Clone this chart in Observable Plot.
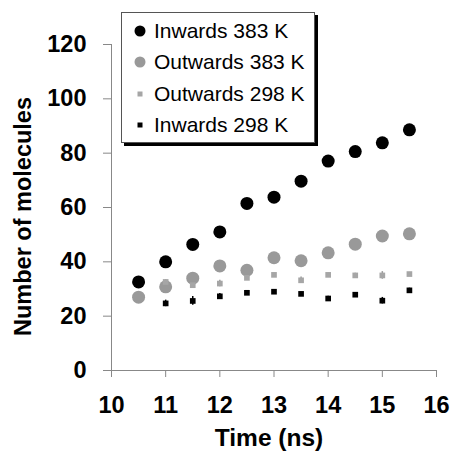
<!DOCTYPE html>
<html><head><meta charset="utf-8">
<script src="https://cdn.jsdelivr.net/npm/d3@7"></script>
<script src="https://cdn.jsdelivr.net/npm/@observablehq/plot@0.6"></script>
<style>
body{margin:0;background:#fff;font-family:"Liberation Sans",Arial,sans-serif;}
#wrap{position:relative;width:452px;height:455px;}
#legend{position:absolute;left:121px;top:12px;width:194px;height:131px;border:1px solid #555;background:#fff;box-shadow:3px 3px 0 #000;box-sizing:border-box;}
#legend .row{position:absolute;left:0;height:24px;display:flex;align-items:center;font-size:21px;color:#000;white-space:nowrap;}
#legend svg{width:30px;height:24px;}
</style></head>
<body><div id="wrap"><div id="chart"></div><div id="legend"></div></div>
<script>
const times = [10.5, 11, 11.5, 12, 12.5, 13, 13.5, 14, 14.5, 15, 15.5];
const inwards383 = [32.6, 40.0, 46.4, 51.0, 61.5, 63.8, 69.7, 77.1, 80.6, 83.8, 88.6];
const outwards383 = [27.0, 30.8, 34.0, 38.5, 36.9, 41.5, 40.4, 43.3, 46.5, 49.5, 50.3];
const outwards298 = [31.8, 32.6, 31.4, 32.0, 34.1, 35.2, 33.2, 35.2, 35.0, 35.0, 35.5];
const inwards298 = [27.1, 24.7, 25.6, 27.3, 28.6, 29.0, 28.2, 26.5, 27.9, 25.7, 29.5];
const err298out = [1.0, 0.8, 1.2, 1.2, 0.8, 0.6, 1.2, 0.6, 0.8, 1.4, 0.6];
const err298in = [1.0, 1.2, 1.6, 1.0, 0.6, 0.6, 0.6, 0.8, 0.8, 1.2, 0.8];
const xTicks = [10, 11, 12, 13, 14, 15, 16];
const yTicks = [0, 20, 40, 60, 80, 100, 120];
const seriesNames = ["Inwards 383 K", "Outwards 383 K", "Outwards 298 K", "Inwards 298 K"];

const rows = (vals, err) => times.map((t, i) => ({t, v: vals[i], e: err ? err[i] : 0}));
const dIn383 = rows(inwards383), dOut383 = rows(outwards383);
const dOut298 = rows(outwards298, err298out), dIn298 = rows(inwards298, err298in);

const plot = Plot.plot({
  width: 452, height: 455,
  marginLeft: 111, marginRight: 16, marginTop: 44, marginBottom: 85,
  x: {domain: [10, 16]},
  y: {domain: [0, 120]},
  style: {fontFamily: "'Liberation Sans', Arial, sans-serif", background: "#fff", color: "#000"},
  marks: [
    Plot.ruleX([10], {stroke: "#888", strokeWidth: 1}),
    Plot.ruleY([0], {stroke: "#888", strokeWidth: 1}),
    Plot.axisY({ticks: yTicks, tickFormat: "d", tickSize: 8, tickPadding: 17, stroke: "#888", fontSize: 23.5, fontWeight: "bold", label: null}),
    Plot.axisX({ticks: xTicks, tickFormat: "d", tickSize: 7, tickPadding: 19, stroke: "#888", fontSize: 23.5, fontWeight: "bold", label: null}),
    Plot.text(["Time (ns)"], {frameAnchor: "bottom", dx: -5, dy: 75, fontSize: 24.5, fontWeight: "bold", fill: "#000"}),
    Plot.text(["Number of molecules"], {frameAnchor: "left", dx: -88, dy: 9, rotate: -90, textAnchor: "middle", fontSize: 23.5, fontWeight: "bold", fill: "#000"}),
    Plot.ruleX(dIn298, {x: "t", y1: d => d.v - d.e, y2: d => d.v + d.e, stroke: "#000", strokeWidth: 1.5}),
    Plot.ruleX(dOut298, {x: "t", y1: d => d.v - d.e, y2: d => d.v + d.e, stroke: "#999", strokeWidth: 1.5}),
    Plot.dot(dIn298, {x: "t", y: "v", symbol: "square", r: 3.2, fill: "#000", stroke: "none"}),
    Plot.dot(dOut383, {x: "t", y: "v", r: 6.5, fill: "#999", stroke: "none"}),
    Plot.dot(dOut298, {x: "t", y: "v", symbol: "square", r: 3.2, fill: "#a6a6a6", stroke: "none"}),
    Plot.dot(dIn383, {x: "t", y: "v", r: 6.5, fill: "#000", stroke: "none"})
  ]
});
document.getElementById("chart").appendChild(plot);

const legend = document.getElementById("legend");
const legendSym = [
  '<circle cx="18" cy="12" r="5.5" fill="#000"/>',
  '<circle cx="18" cy="12" r="5.5" fill="#999"/>',
  '<rect x="15.5" y="9.5" width="5" height="5" fill="#a6a6a6"/>',
  '<rect x="15.5" y="9.5" width="5" height="5" fill="#000"/>'
];
const rowCenters = [31, 62, 94, 125];
seriesNames.forEach((name, i) => {
  const r = document.createElement("div");
  r.className = "row";
  r.style.top = (rowCenters[i] - 12 - 13) + "px";
  r.innerHTML = '<svg viewBox="0 0 30 24">' + legendSym[i] + '</svg><span style="margin-left:2px">' + name + '</span>';
  legend.appendChild(r);
});
</script></body></html>
